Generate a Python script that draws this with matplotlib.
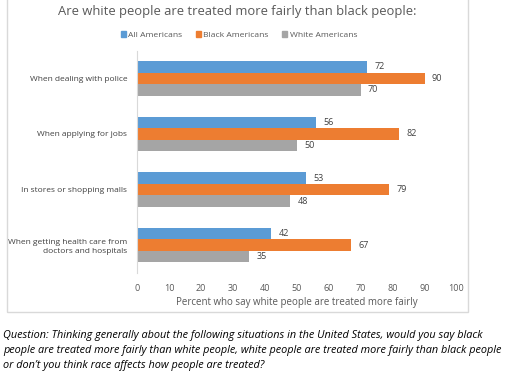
import matplotlib.pyplot as plt
import numpy as np
from matplotlib.patches import Rectangle

plt.rcParams['font.family'] = ['Open Sans', 'DejaVu Sans']

categories = ['When dealing with police', 'When applying for jobs',
              'In stores or shopping malls',
              'When getting health care from\ndoctors and hospitals']
series = ['All Americans', 'Black Americans', 'White Americans']
all_am = [72, 56, 53, 42]
black_am = [90, 82, 79, 67]
white_am = [70, 50, 48, 35]
colors = ['#5B9BD5', '#ED7D31', '#A5A5A5']
xticks = [0, 10, 20, 30, 40, 50, 60, 70, 80, 90, 100]

title = 'Are white people are treated more fairly than black people:'
xlabel = 'Percent who say white people are treated more fairly'
note = ('Question: Thinking generally about the following situations in the United States, would you say black\n'
        'people are treated more fairly than white people, white people are treated more fairly than black people\n'
        'or don\u2019t you think race affects how people are treated?')

fig = plt.figure(figsize=(5.07, 3.74), dpi=100)
W, H = 507, 374

# chart border
fig.patches.append(Rectangle((6.5 / W, 1 - 312 / H), (468 - 6.5) / W, 312 / H + 0.01,
                             transform=fig.transFigure, fill=False,
                             edgecolor='#D9D9D9', linewidth=1))

ax = fig.add_axes([137 / W, 1 - 273 / H, 319.5 / W, (273 - 50.6) / H])
y = np.arange(len(categories))
h = 0.207
for i, (vals, c) in enumerate(zip([all_am, black_am, white_am], colors)):
    pos = y + (i - 1) * h
    ax.barh(pos, vals, height=h, color=c, label=series[i])
    for p, v in zip(pos, vals):
        ax.text(v + 2.3, p, str(v), va='center', ha='left', fontsize=6.5, color='#404040')

ax.set_ylim(len(categories) - 0.5, -0.5)
ax.set_xlim(0, 100)
ax.set_xticks(xticks)
ax.set_yticks(y)
ax.set_yticklabels(categories, fontsize=6.0, color='#404040', linespacing=1.3)
ax.tick_params(axis='x', labelsize=6.5, labelcolor='#595959', length=0, pad=8)
ax.tick_params(axis='y', length=0, pad=7)
for s in ['top', 'right', 'bottom']:
    ax.spines[s].set_visible(False)
ax.spines['left'].set_color('#D9D9D9')
ax.set_xlabel(xlabel, fontsize=7, color='#595959', labelpad=3)

fig.text(237 / W, 1 - 11 / H, title, ha='center', va='center', fontsize=9.4, color='#595959')

handles = [Rectangle((0, 0), 1, 1, color=c) for c in colors]
fig.legend(handles, series, loc='center', bbox_to_anchor=(239 / W, 1 - 35 / H), ncol=3,
           frameon=False, fontsize=6.1, handlelength=0.6, handleheight=0.6,
           handletextpad=0.3, columnspacing=1.6, labelcolor='#595959')

fig.text(3 / W, 1 - 350.5 / H, note, ha='left', va='center', fontsize=7.8,
         style='italic', color='#000000', linespacing=1.5)

fig.savefig('out.png', dpi=100)
